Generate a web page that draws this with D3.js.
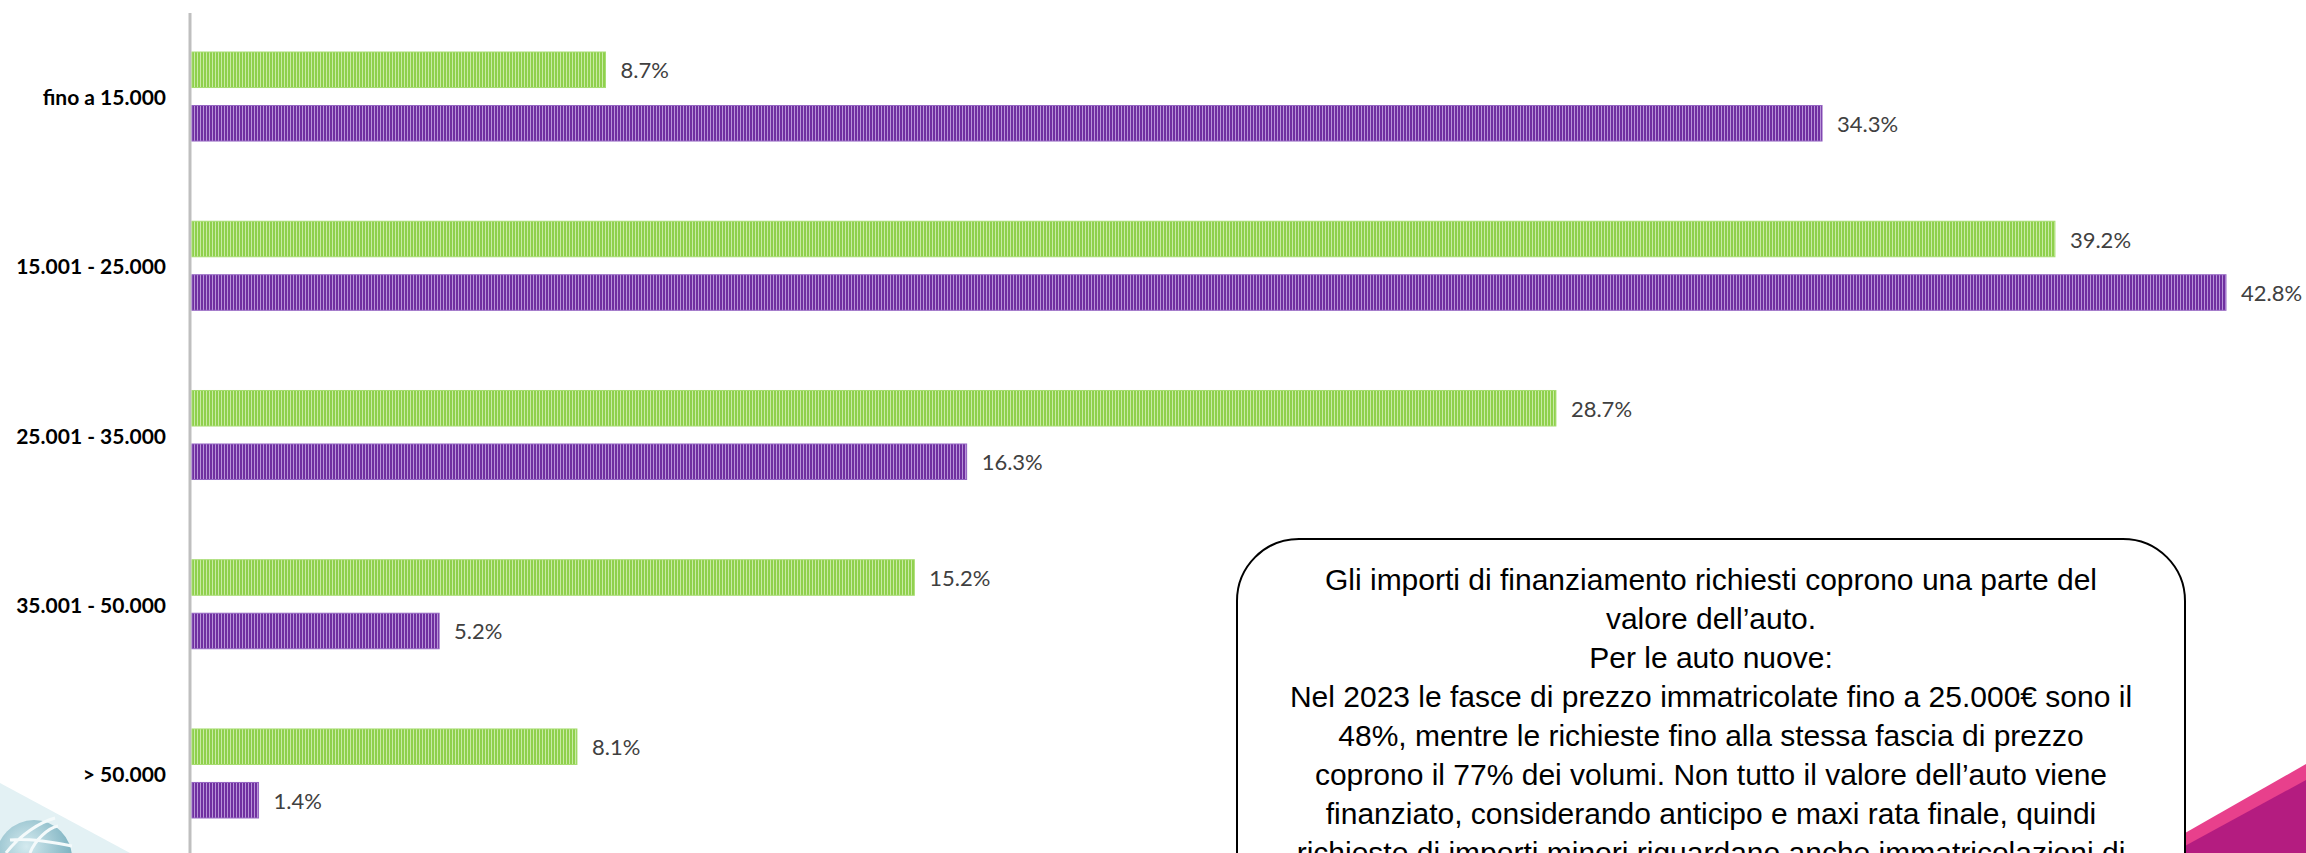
<!DOCTYPE html>
<html>
<head>
<meta charset="utf-8">
<script src="https://cdn.jsdelivr.net/npm/d3@7"></script>
<style>
  html, body { margin: 0; padding: 0; background: #fff; }
  svg { display: block; }
  .cat-label { font-family: Lato, "Open Sans", sans-serif; font-weight: 700; font-size: 21px; fill: #000; }
  .val-label { font-family: Lato, "Open Sans", sans-serif; font-size: 22px; fill: #404040; }
  .note { font-family: "Liberation Sans", Arial, sans-serif; font-size: 30px; fill: #000; }
</style>
</head>
<body>
<script>
const categories = ["fino a 15.000", "15.001 - 25.000", "25.001 - 35.000", "35.001 - 50.000", "> 50.000"];

const seriesNames = ["Immatricolazioni 2023", "Richieste di finanziamento"];

const immatricolazioni = [8.7, 39.2, 28.7, 15.2, 8.1];
const richieste = [34.3, 42.8, 16.3, 5.2, 1.4];

const noteLines = [
  "Gli importi di finanziamento richiesti coprono una parte del",
  "valore dell\u2019auto.",
  "Per le auto nuove:",
  "Nel 2023 le fasce di prezzo immatricolate fino a 25.000\u20ac sono il",
  "48%, mentre le richieste fino alla stessa fascia di prezzo",
  "coprono il 77% dei volumi. Non tutto il valore dell\u2019auto viene",
  "finanziato, considerando anticipo e maxi  rata finale, quindi",
  "richieste di importi minori riguardano anche immatricolazioni di"
];

const width = 2306;
const height = 853;

// one row per bar, built from the arrays above
const rows = [];
categories.forEach((c, i) => {
  rows.push({ cat: c, serie: seriesNames[0], value: immatricolazioni[i] });
  rows.push({ cat: c, serie: seriesNames[1], value: richieste[i] });
});

const svg = d3.select("body")
  .append("svg")
  .attr("width", width)
  .attr("height", height);

// striped fills like the excel pattern
const defs = svg.append("defs");
const patterns = [
  { id: "stripe-green", dark: "#8fd04c", light: "#c9eba6" },
  { id: "stripe-purple", dark: "#7030a0", light: "#b894d8" }
];
patterns.forEach(p => {
  const pat = defs.append("pattern")
    .attr("id", p.id)
    .attr("patternUnits", "userSpaceOnUse")
    .attr("width", 3)
    .attr("height", 10);
  pat.append("rect").attr("width", 3).attr("height", 10).attr("fill", p.light);
  pat.append("rect").attr("width", 2).attr("height", 10).attr("fill", p.dark);
});

const globeGrad = defs.append("radialGradient")
  .attr("id", "globe")
  .attr("cx", "40%").attr("cy", "35%").attr("r", "70%");
globeGrad.append("stop").attr("offset", "0%").attr("stop-color", "#d4eaef");
globeGrad.append("stop").attr("offset", "100%").attr("stop-color", "#6fa9b9");

// scales
const y0 = d3.scaleBand()
  .domain(categories)
  .range([11.9, 858.1])
  .paddingInner(0.474)
  .paddingOuter(0.237);

const y1 = d3.scaleBand()
  .domain(seriesNames)
  .range([0, y0.bandwidth()])
  .paddingInner(0.336);

const x = d3.scaleLinear()
  .domain([0, 42.8])
  .range([192, 2226]);

const fillFor = d3.scaleOrdinal()
  .domain(seriesNames)
  .range(["url(#stripe-green)", "url(#stripe-purple)"]);

const edgeFor = d3.scaleOrdinal()
  .domain(seriesNames)
  .range(["#a6dc70", "#9566c2"]);

// decorations at the bottom corners
svg.append("polygon")
  .attr("points", `0,783 130,${height} 0,${height}`)
  .attr("fill", "#e3f1f4");

svg.append("circle")
  .attr("cx", 34).attr("cy", 858).attr("r", 38)
  .attr("fill", "url(#globe)");

svg.append("path")
  .attr("d", "M6,853 C20,835 40,822 55,818 M30,853 C35,840 48,828 58,826 M10,840 C30,838 50,842 72,846")
  .attr("fill", "none")
  .attr("stroke", "#f4fafb")
  .attr("stroke-width", 3);

svg.append("polygon")
  .attr("points", `2150,${height} 2306,764 2306,${height}`)
  .attr("fill", "#e8408c");

svg.append("polygon")
  .attr("points", `2150,${height + 12} 2306,780 2306,${height}`)
  .attr("fill", "#b41c80");

// vertical axis line
svg.append("line")
  .attr("x1", 190).attr("x2", 190)
  .attr("y1", 13).attr("y2", height)
  .attr("stroke", "#bfbfbf")
  .attr("stroke-width", 3);

// bars
svg.selectAll(".bar")
  .data(rows)
  .enter()
  .append("rect")
  .attr("class", "bar")
  .attr("x", x(0))
  .attr("y", d => y0(d.cat) + y1(d.serie))
  .attr("width", d => x(d.value) - x(0))
  .attr("height", y1.bandwidth())
  .attr("fill", d => fillFor(d.serie))
  .attr("stroke", d => edgeFor(d.serie))
  .attr("stroke-width", 1);

// value labels
svg.selectAll(".val-label")
  .data(rows)
  .enter()
  .append("text")
  .attr("class", "val-label")
  .attr("x", d => x(d.value) + 15)
  .attr("y", d => y0(d.cat) + y1(d.serie) + y1.bandwidth() / 2)
  .attr("dominant-baseline", "central")
  .text(d => d3.format(".1f")(d.value) + "%");

// category labels
svg.selectAll(".cat-label")
  .data(categories)
  .enter()
  .append("text")
  .attr("class", "cat-label")
  .attr("x", 166)
  .attr("y", d => y0(d) + y0.bandwidth() / 2)
  .attr("text-anchor", "end")
  .attr("dominant-baseline", "central")
  .text(d => d);

// note box, runs off the bottom of the slide
const boxL = 1237, boxR = 2185, boxT = 539;
svg.append("rect")
  .attr("x", boxL).attr("y", boxT)
  .attr("width", boxR - boxL)
  .attr("height", 420)
  .attr("rx", 62).attr("ry", 62)
  .attr("fill", "#fff")
  .attr("stroke", "#000")
  .attr("stroke-width", 2);

svg.selectAll(".note")
  .data(noteLines)
  .enter()
  .append("text")
  .attr("class", "note")
  .attr("x", (boxL + boxR) / 2)
  .attr("y", (d, i) => 590 + i * 39)
  .attr("text-anchor", "middle")
  .text(d => d);
</script>
</body>
</html>
